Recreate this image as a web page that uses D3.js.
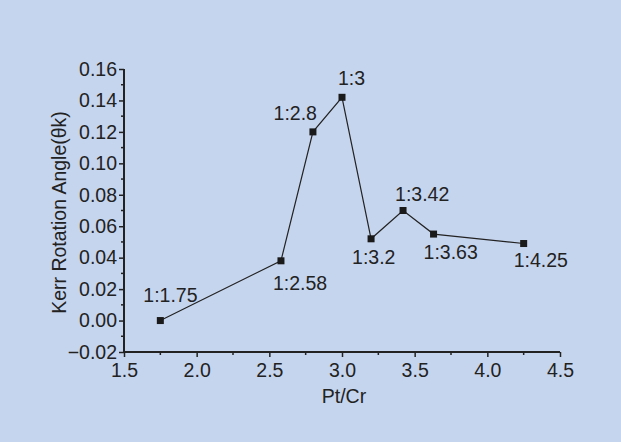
<!DOCTYPE html>
<html>
<head>
<meta charset="utf-8">
<script src="https://cdn.jsdelivr.net/npm/d3@7"></script>
<style>
html,body{margin:0;padding:0;background:#c6d5ee;}
svg{display:block;}
text{font-family:"Liberation Sans",Arial,Helvetica,sans-serif;fill:#222;}
</style>
</head>
<body>
<svg id="chart" width="621" height="442"></svg>
<script>
const ratios = [1.75, 2.58, 2.8, 3.0, 3.2, 3.42, 3.63, 4.25];
const kerr = [0.000, 0.038, 0.120, 0.142, 0.052, 0.070, 0.055, 0.049];
const labels = ["1:1.75", "1:2.58", "1:2.8", "1:3", "1:3.2", "1:3.42", "1:3.63", "1:4.25"];
const xTicks = [1.5, 2.0, 2.5, 3.0, 3.5, 4.0, 4.5];
const yTicks = [-0.02, 0.00, 0.02, 0.04, 0.06, 0.08, 0.10, 0.12, 0.14, 0.16];
const xTitle = "Pt/Cr";
const yTitle = "Kerr Rotation Angle(θk)";

// label offsets (dx, dy from point, anchor)
const labelPos = [
  [-17, -19, "start"],
  [-8, 29, "start"],
  [4, -12, "end"],
  [-4, -12, "start"],
  [-19, 25, "start"],
  [-8, -10, "start"],
  [-10, 25, "start"],
  [-10, 23, "start"]
];

const svg = d3.select("#chart");
const W = 621, H = 442;
svg.append("rect").attr("width", W).attr("height", H).attr("fill", "#c6d5ee");

const x = d3.scaleLinear().domain([1.5, 4.5]).range([124, 560]);
const y = d3.scaleLinear().domain([-0.02, 0.16]).range([352, 69]);

const fs = 19.5;
const ff = '"Liberation Sans",Arial,sans-serif';

// minor ticks
const xMinor = d3.range(1.75, 4.5, 0.5);
const yMinor = d3.range(-0.01, 0.16, 0.02);

const gx = svg.append("g").attr("transform", "translate(0,352)");
gx.call(d3.axisBottom(x).tickValues(xTicks).tickFormat(d3.format(".1f")).tickSize(5).tickPadding(6));
gx.selectAll(".tick line").attr("stroke", "#222").attr("stroke-width", 1.5);
gx.select(".domain").attr("stroke", "#222").attr("stroke-width", 2).attr("d", `M${x(1.5)},0H${x(4.5)}`);
gx.selectAll("text").style("font-size", fs + "px").attr("fill", "#222").style("font-family", ff);
gx.selectAll(".minor").data(xMinor).enter().append("line")
  .attr("x1", d => x(d)).attr("x2", d => x(d)).attr("y1", 0).attr("y2", 3)
  .attr("stroke", "#222").attr("stroke-width", 1.5);

const gy = svg.append("g").attr("transform", "translate(124,0)");
gy.call(d3.axisLeft(y).tickValues(yTicks).tickFormat(d3.format(".2f")).tickSize(5).tickPadding(2));
gy.selectAll(".tick line").attr("stroke", "#222").attr("stroke-width", 1.5);
gy.select(".domain").attr("stroke", "#222").attr("stroke-width", 2).attr("d", `M0,${y(-0.02)}V${y(0.16)}`);
gy.selectAll("text").style("font-size", fs + "px").attr("fill", "#222").style("font-family", ff);
gy.selectAll(".minor").data(yMinor).enter().append("line")
  .attr("x1", 0).attr("x2", -3).attr("y1", d => y(d)).attr("y2", d => y(d))
  .attr("stroke", "#222").attr("stroke-width", 1.5);

// titles
svg.append("text").attr("x", 344).attr("y", 403).attr("text-anchor", "middle")
  .style("font-size", fs + "px").text(xTitle);
svg.append("text").attr("transform", "translate(66,212.5) rotate(-90)").attr("text-anchor", "middle")
  .style("font-size", fs + "px").text(yTitle);

// line
const pts = ratios.map((r, i) => [r, kerr[i]]);
svg.append("path").datum(pts)
  .attr("fill", "none").attr("stroke", "#222").attr("stroke-width", 1.2)
  .attr("d", d3.line().x(d => x(d[0])).y(d => y(d[1])));

// markers
svg.selectAll(".pt").data(pts).enter().append("rect")
  .attr("x", d => x(d[0]) - 3.5).attr("y", d => y(d[1]) - 3.5)
  .attr("width", 7).attr("height", 7).attr("fill", "#1a1a1a");

// point labels
svg.selectAll(".lbl").data(pts).enter().append("text")
  .attr("x", (d, i) => x(d[0]) + labelPos[i][0])
  .attr("y", (d, i) => y(d[1]) + labelPos[i][1])
  .attr("text-anchor", (d, i) => labelPos[i][2])
  .style("font-size", fs + "px")
  .text((d, i) => labels[i]);
</script>
</body>
</html>
